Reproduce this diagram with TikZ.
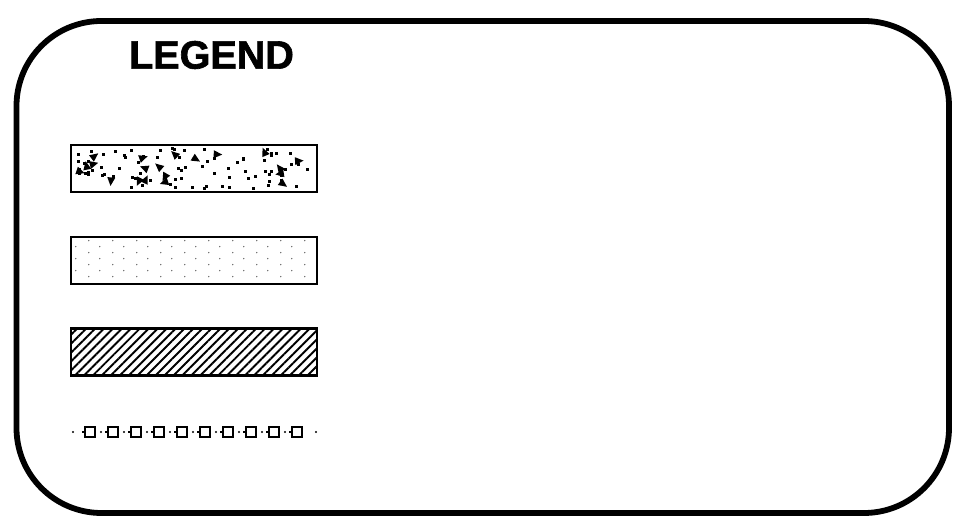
\documentclass[tikz,border=0pt]{standalone}
\usepackage{fontspec}
\setmainfont{Liberation Sans}
\newfontfamily\heavyfont[FakeBold=1.6]{Liberation Sans Bold}
\usetikzlibrary{positioning, patterns.meta, calc}

\begin{document}
\begin{tikzpicture}[
  swatch/.style={draw, line width=1.3pt, minimum width=4.92cm, minimum height=0.94cm, inner sep=0pt},
  markbox/.style={draw, line width=1.1pt, minimum size=0.2cm, inner sep=0pt},
  title/.style={font=\heavyfont\fontsize{22.5}{26}\selectfont},
]
\useasboundingbox (0,0) rectangle (19.36,10.62);

% ─── FRAME ────────────────────────────────────────────────────────────────────
\draw[line width=3.3pt, rounded corners=1.7cm] (0.33,0.36) rectangle (18.98,10.20);
\node[title] (legend) at (4.23,9.52) {LEGEND};

% ─── SWATCHES ─────────────────────────────────────────────────────────────────
\node[swatch] (gravel) at (3.88,7.25) {};
\node[swatch, below=0.85cm of gravel] (sand) {};
\node[swatch, pattern={Lines[angle=45,distance=3.6pt,line width=1.1pt]}, below=0.85cm of sand] (hatch) {};

% gravel specks
\begin{scope}[shift={(gravel.south west)}]
  \clip (0,0) rectangle (4.92,0.94);
  \pgfmathsetseed{23}
  \foreach \i in {1,...,80}{
    \pgfmathsetmacro{\px}{0.1+4.72*rnd}
    \pgfmathsetmacro{\py}{0.06+0.8*rnd}
    \fill (\px,\py) rectangle ++(0.06,0.06);
  }
  \foreach \i in {1,...,20}{
    \pgfmathsetmacro{\px}{0.15+4.6*rnd}
    \pgfmathsetmacro{\py}{0.12+0.7*rnd}
    \pgfmathsetmacro{\rot}{360*rnd}
    \fill[shift={(\px,\py)}, rotate=\rot] (0.1,0) -- (-0.07,0.08) -- (-0.07,-0.08) -- cycle;
  }
\end{scope}

% sand dots
\begin{scope}[shift={(sand.north west)}]
  \foreach \k in {0,...,9}{
    \foreach \y in {0.1,0.34,0.58,0.82}
      \fill[black!60] ({0.38+0.48*\k},-\y) circle (0.015);
    \foreach \y in {0.22,0.46,0.70}
      \fill[black!60] ({0.12+0.48*\k},-\y) circle (0.015);
  }
\end{scope}

% ─── MARKER LINE ──────────────────────────────────────────────────────────────
\foreach \k in {0,...,9}{
  \node[markbox] (sq\k) at ({1.80+0.46*\k},1.98) {};
  \draw[line width=0.6pt] (sq\k.west) -- ++(-0.05,0);
  \ifnum\k>0 \fill ($(sq\k.west)+(-0.12,0)$) circle (0.022);\fi
}
\fill (1.46,1.98) circle (0.022);
\fill (6.32,1.98) circle (0.022);

\end{tikzpicture}
\end{document}
